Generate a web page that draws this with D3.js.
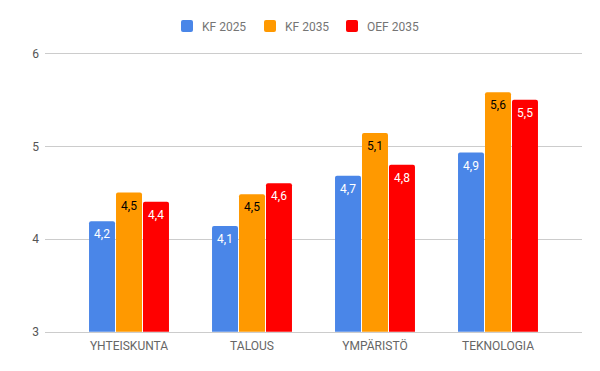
<!DOCTYPE html>
<html>
<head>
<meta charset="utf-8">
<script src="https://cdn.jsdelivr.net/npm/d3@7"></script>
<style>
body { margin: 0; background: #fff; }
text { font-family: Roboto, "Noto Sans", sans-serif; }
</style>
</head>
<body>
<script>
let categories = ["YHTEISKUNTA", "TALOUS", "YMPÄRISTÖ", "TEKNOLOGIA"];
let seriesNames = ["KF 2025", "KF 2035", "OEF 2035"];
let kf2025 = [4.19, 4.14, 4.68, 4.93];
let kf2035 = [4.5, 4.48, 5.14, 5.58];
let oef2035 = [4.4, 4.6, 4.8, 5.5];
let yTicks = [3, 4, 5, 6];
let colors = ["#4a86e8", "#ff9900", "#ff0000"];
let labelColors = ["#ffffff", "#000000", "#ffffff"];

let series = [kf2025, kf2035, oef2035];

let width = 600, height = 371;
let svg = d3.select("body").append("svg")
   .attr("width", width).attr("height", height);

let x0 = d3.scaleBand().domain(categories).range([45, 582])
   .paddingInner(0.35).paddingOuter(0.358);
let x1 = d3.scaleBand().domain(seriesNames).range([0, x0.bandwidth()])
   .paddingInner(0.037);
let y = d3.scaleLinear().domain([3, 6]).range([331.7, 53.3]);

// gridlines
svg.append("g").selectAll("line").data(yTicks).enter().append("line")
   .attr("x1", 45).attr("x2", 582)
   .attr("y1", function (d) { return Math.round(y(d)) + 0.5; })
   .attr("y2", function (d) { return Math.round(y(d)) + 0.5; })
   .attr("stroke", "#cccccc").attr("stroke-width", 1);

// y labels
svg.append("g").selectAll("text").data(yTicks).enter().append("text")
   .attr("x", 39).attr("y", function (d) { return y(d) + 4.5; })
   .attr("text-anchor", "end").attr("font-size", 12).attr("fill", "#555555")
   .text(function (d) { return d; });

// bars
let rows = [];
categories.forEach(function (c, i) {
   series.forEach(function (s, j) {
      rows.push({ cat: c, name: seriesNames[j], value: s[i], k: j });
   });
});

function barPath(x, top, w, bottom, r) {
   return "M" + x + "," + bottom + "V" + (top + r)
      + "Q" + x + "," + top + " " + (x + r) + "," + top
      + "H" + (x + w - r)
      + "Q" + (x + w) + "," + top + " " + (x + w) + "," + (top + r)
      + "V" + bottom + "Z";
}

svg.append("g").selectAll("path").data(rows).enter().append("path")
   .attr("d", function (d) {
      return barPath(x0(d.cat) + x1(d.name), y(d.value), x1.bandwidth(), y(3), 2);
   })
   .attr("fill", function (d) { return colors[d.k]; });

let fmt = d3.format(".1f");
svg.append("g").selectAll("text").data(rows).enter().append("text")
   .attr("x", function (d) { return x0(d.cat) + x1(d.name) + x1.bandwidth() / 2; })
   .attr("y", function (d) { return y(d.value) + 17; })
   .attr("text-anchor", "middle").attr("font-size", 12)
   .attr("fill", function (d) { return labelColors[d.k]; })
   .text(function (d) { return fmt(d.value).replace(".", ","); });

// x labels
svg.append("g").selectAll("text").data(categories).enter().append("text")
   .attr("x", function (d) { return x0(d) + x0.bandwidth() / 2; })
   .attr("y", 349.5)
   .attr("text-anchor", "middle").attr("font-size", 12).attr("fill", "#666666")
   .text(function (d) { return d; });

// legend
let legendX = [181, 264, 346];
let legend = svg.append("g").selectAll("g").data(seriesNames).enter().append("g")
   .attr("transform", function (d, i) { return "translate(" + legendX[i] + ",20)"; });
legend.append("rect").attr("width", 12).attr("height", 12).attr("rx", 2)
   .attr("fill", function (d, i) { return colors[i]; });
legend.append("text").attr("x", 21).attr("y", 10.5)
   .attr("font-size", 12).attr("fill", "#757575")
   .text(function (d) { return d; });
</script>
</body>
</html>
